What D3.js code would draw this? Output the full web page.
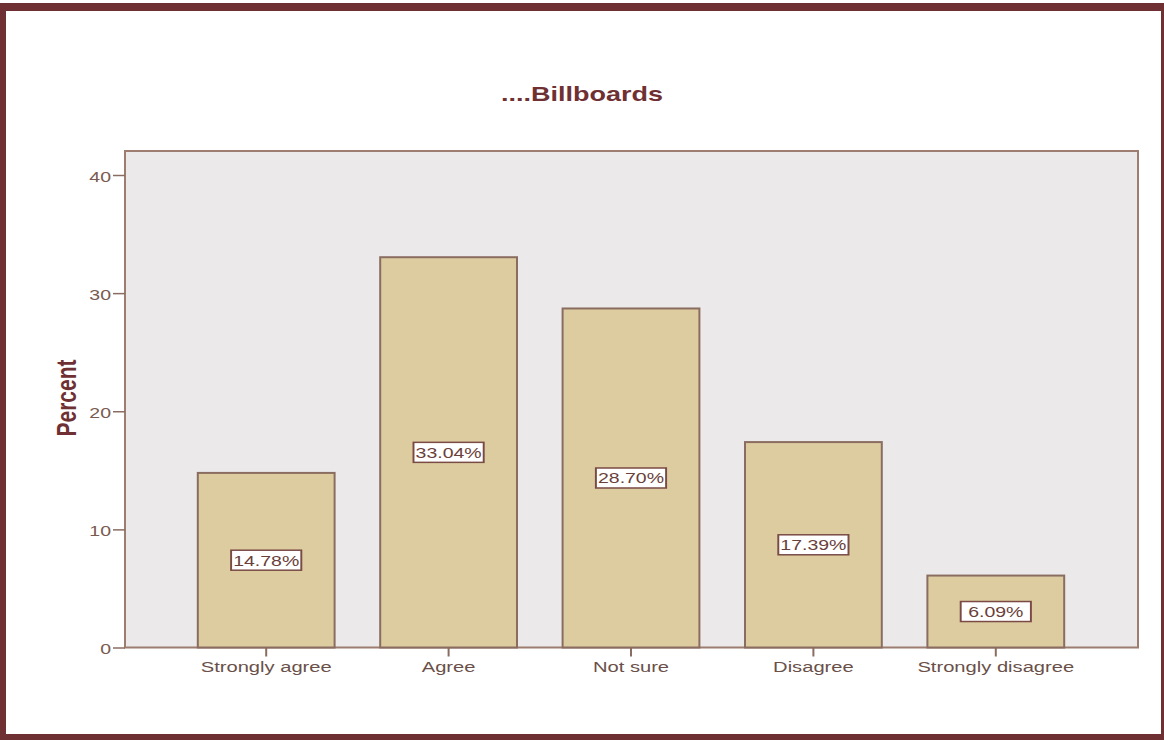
<!DOCTYPE html>
<html lang="en">
<head>
<meta charset="utf-8" />
<title>Billboards</title>
<script src="https://d3js.org/d3.v7.min.js"></script>
<style>
    body { margin: 0; background: #fff; }
    svg { display: block; font-family: "Liberation Sans", Arial, sans-serif; }
</style>
</head>
<body>
<svg width="1164" height="740"></svg>
<script>
    const categories = ["Strongly agree", "Agree", "Not sure", "Disagree", "Strongly disagree"];
    const percents = [14.78, 33.04, 28.70, 17.39, 6.09];
    const yTicks = [0, 10, 20, 30, 40];

    const svg = d3.select("svg");
    const width = +svg.attr("width");
    const height = +svg.attr("height");
    const stretch = 1.3; // text in the original is widened horizontally

    // outer frame
    svg.append("rect").attr("x", 0).attr("y", 3).attr("width", width).attr("height", height - 3)
        .attr("fill", "#6f3033");
    svg.append("rect").attr("x", 6).attr("y", 11).attr("width", 1155).attr("height", 723)
        .attr("fill", "#fff");

    const plot = { left: 125, right: 1138, top: 151, bottom: 647.5 };

    const x = d3.scaleBand()
        .domain(categories)
        .range([175, 1087])
        .paddingInner(0.25)
        .paddingOuter(0.125);

    const y = d3.scaleLinear()
        .domain([0, 40])
        .range([plot.bottom, 175]);

    // plot area
    svg.append("rect")
        .attr("x", plot.left).attr("y", plot.top)
        .attr("width", plot.right - plot.left).attr("height", plot.bottom - plot.top)
        .attr("fill", "#ebe9ea")
        .attr("stroke", "#9c7d70")
        .attr("stroke-width", 2);

    // bars
    svg.append("g")
        .selectAll("rect")
        .data(percents)
        .join("rect")
        .attr("x", (d, i) => x(categories[i]))
        .attr("y", d => y(d))
        .attr("width", x.bandwidth())
        .attr("height", d => y(0) - y(d))
        .attr("fill", "#dccc9f")
        .attr("stroke", "#8a6d60")
        .attr("stroke-width", 2);

    // value labels
    const labels = svg.append("g")
        .selectAll("g")
        .data(percents)
        .join("g")
        .attr("transform", (d, i) =>
            `translate(${x(categories[i]) + x.bandwidth() / 2},${(y(d) + y(0)) / 2}) scale(${stretch},1)`);

    labels.append("rect")
        .attr("x", -27).attr("y", -10)
        .attr("width", 54).attr("height", 20)
        .attr("fill", "#fff")
        .attr("stroke", "#7a4a45")
        .attr("stroke-width", 1.5);

    labels.append("text")
        .attr("text-anchor", "middle")
        .attr("dy", "0.36em")
        .attr("font-size", 15)
        .attr("fill", "#6b3f3a")
        .text(d => d.toFixed(2) + "%");

    // x axis
    const xAxis = svg.append("g")
        .attr("transform", `translate(0,${plot.bottom})`)
        .call(d3.axisBottom(x).tickSize(9).tickSizeOuter(0));
    xAxis.select(".domain").remove();
    xAxis.selectAll("line").attr("stroke", "#8a6d60").attr("stroke-width", 2);
    xAxis.selectAll("text")
        .attr("y", 0).attr("dy", 0)
        .attr("transform", `translate(0,24) scale(${stretch},1)`)
        .attr("font-size", 15.5)
        .attr("font-family", "'Liberation Sans', Arial, sans-serif")
        .attr("fill", "#6a5049");

    // y axis
    const yAxis = svg.append("g")
        .attr("transform", `translate(${plot.left},0)`)
        .call(d3.axisLeft(y).tickValues(yTicks).tickSize(12).tickSizeOuter(0));
    yAxis.select(".domain").remove();
    yAxis.selectAll("line").attr("stroke", "#8a6d60").attr("stroke-width", 1.5);
    yAxis.selectAll("text")
        .attr("x", 0).attr("dy", "0.42em")
        .attr("transform", `translate(-14,0) scale(${stretch},1)`)
        .attr("font-size", 15)
        .attr("font-family", "'Liberation Sans', Arial, sans-serif")
        .attr("fill", "#7a5a50");

    // title
    svg.append("text")
        .attr("transform", `translate(582,101) scale(1.35,1)`)
        .attr("text-anchor", "middle")
        .attr("font-size", 20)
        .attr("font-weight", "bold")
        .attr("fill", "#6f3033")
        .text("....Billboards");

    // y label
    svg.append("text")
        .attr("transform", `translate(76,398) scale(${stretch},1) rotate(-90)`)
        .attr("text-anchor", "middle")
        .attr("font-size", 21)
        .attr("font-weight", "bold")
        .attr("fill", "#6f3033")
        .text("Percent");
</script>
</body>
</html>
